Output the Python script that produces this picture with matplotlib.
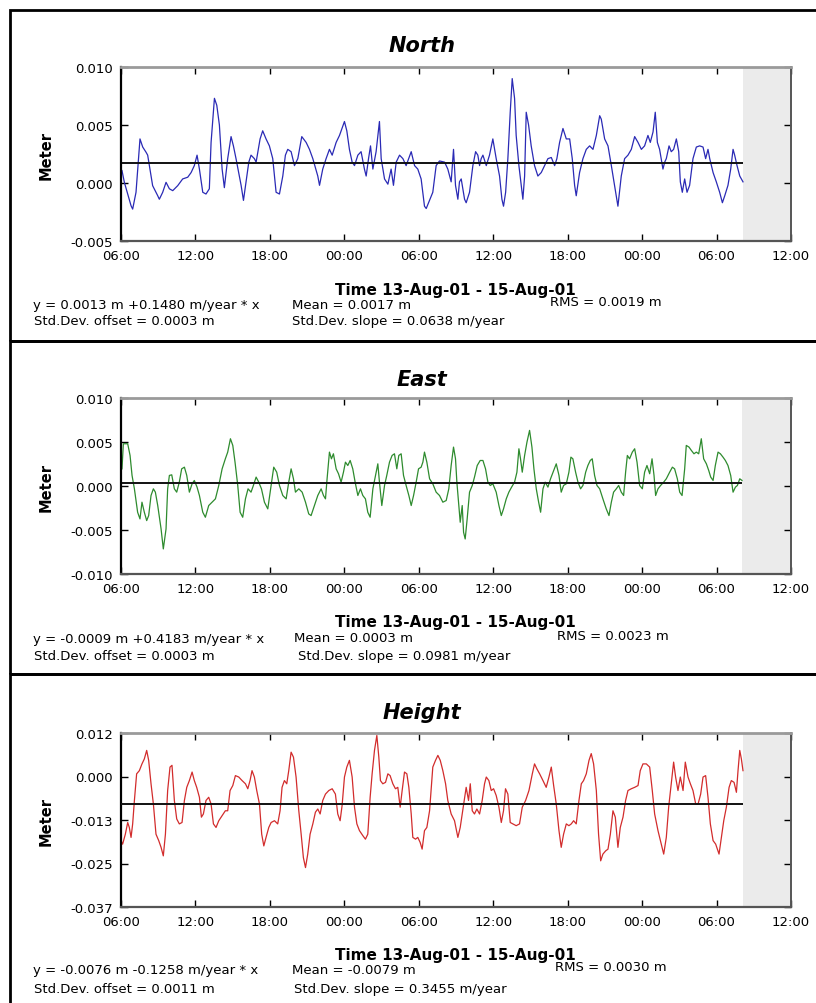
import numpy as np
import pandas as pd
import matplotlib
matplotlib.use('Agg')
import matplotlib.pyplot as plt
import matplotlib.dates as mdates
from matplotlib.patches import Rectangle

START = pd.Timestamp('2001-08-13 06:00')
XMAX = pd.Timestamp('2001-08-15 12:00')

# ---------------- data (hours after 13-Aug-01 06:00, metres) ----------------
north_hours = [0.08,0.27,0.81,0.94,1.21,1.53,1.75,2.02,2.15,2.55,2.96,3.09,3.36,3.63,3.90,4.17,4.57,4.97,5.38,5.65,
               5.91,6.13,6.32,6.59,6.85,7.12,7.26,7.53,7.72,7.93,8.15,8.33,8.60,8.87,9.06,9.27,9.68,9.87,10.08,10.30,
               10.48,10.75,10.89,11.21,11.42,11.69,11.96,12.23,12.50,12.77,13.04,13.25,13.44,13.71,13.98,14.25,14.57,14.92,15.19,15.46,
               15.86,16.00,16.26,16.53,16.80,17.02,17.34,17.61,18.01,18.20,18.41,18.63,18.82,19.09,19.35,19.62,19.76,19.95,20.11,20.30,
               20.56,20.83,20.97,21.24,21.51,21.77,21.96,22.18,22.45,22.72,22.98,23.39,23.66,23.92,24.19,24.46,24.60,
               25.13,25.40,25.67,26.08,26.34,26.61,26.80,26.96,27.15,27.28,27.42,27.69,27.82,28.09,28.36,28.58,28.76,28.90,29.03,29.17,
               29.44,29.70,29.97,30.24,30.51,30.70,30.83,31.00,31.18,31.37,31.53,31.72,31.85,32.07,32.26,32.39,32.53,32.66,32.85,33.06,
               33.33,33.60,33.87,34.14,34.41,34.68,34.95,35.13,35.35,35.62,35.89,36.16,36.37,36.56,36.69,36.96,37.23,37.50,37.77,38.04,
               38.31,38.58,38.71,38.98,39.25,39.52,39.78,40.05,40.32,40.59,40.86,41.13,41.40,41.67,41.94,42.20,42.47,42.66,42.88,43.06,
               43.23,43.41,43.68,43.82,43.95,44.17,44.35,44.54,44.76,44.95,45.08,45.24,45.43,45.62,45.83,46.10,46.37,46.64,46.91,47.12,
               47.31,47.45,47.72,47.98,48.25,48.47,48.66,48.92,49.14,49.33,49.46,49.65,49.87,50.13]
north_values = [0.00107,0.00006,-0.00196,-0.00225,-0.0008,0.0038,0.0031,0.00265,0.0024,-0.00023,-0.0011,-0.0014,-0.0008,0.00006,-0.0005,-0.00066,-0.00023,0.00035,0.0005,0.0009,
                0.0015,0.0024,0.0012,-0.0008,-0.00095,-0.0005,0.0035,0.0073,0.0067,0.0050,0.0012,-0.0004,0.0021,0.0040,0.0032,0.0021,-0.0002,-0.0015,0.0001,0.0018,
                0.0024,0.0021,0.0018,0.0038,0.0045,0.0038,0.0032,0.0021,-0.0008,-0.00095,0.0006,0.0024,0.0029,0.0027,0.0015,0.0021,0.0040,0.0035,0.0029,0.0021,
                0.0006,-0.0002,0.0012,0.0021,0.0029,0.0024,0.0035,0.0041,0.0053,0.0045,0.0029,0.0018,0.0015,0.0024,0.0027,0.0012,0.0006,0.0021,0.0032,0.0012,
                0.0027,0.0053,0.0021,0.00035,-0.0001,0.0012,-0.0002,0.0018,0.0024,0.0021,0.0015,0.0027,0.0015,0.0012,0.00035,-0.0020,-0.0022,
                -0.0008,0.0015,0.0019,0.0018,0.0012,0.0001,0.0029,-0.0002,-0.0014,0.0001,0.00035,-0.0014,-0.0017,-0.0008,0.0015,0.0027,0.0024,0.0015,0.0021,0.0024,
                0.0015,0.0024,0.0038,0.0021,0.0006,-0.0014,-0.0020,-0.0008,0.0021,0.0061,0.0090,0.0073,0.0041,0.0015,-0.0002,-0.0014,0.0006,0.0061,0.0050,0.0032,
                0.0015,0.0006,0.0009,0.0015,0.0021,0.0022,0.0015,0.0021,0.0035,0.0047,0.0038,0.0038,0.0021,-0.0002,-0.0011,0.0009,0.0021,0.0029,0.0032,0.0029,
                0.0041,0.0058,0.0055,0.0038,0.0032,0.0015,-0.0002,-0.0020,0.0006,0.0021,0.0024,0.0029,0.0040,0.0035,0.0029,0.0032,0.0041,0.0035,0.0044,0.0061,
                0.0035,0.0029,0.0012,0.0018,0.0021,0.0032,0.0027,0.0029,0.0038,0.0027,0.0001,-0.0008,0.00035,-0.0008,-0.0002,0.0021,0.0031,0.0032,0.0031,0.0021,
                0.0029,0.0021,0.0009,0.0001,-0.0008,-0.0017,-0.0011,-0.0002,0.0012,0.0029,0.0024,0.0015,0.0006,0.0001]

east_hours = [0.08,0.19,0.54,0.73,0.89,1.08,1.34,1.53,1.69,1.88,2.07,2.23,2.42,2.61,2.77,2.96,3.23,3.41,3.63,3.76,
              3.90,4.09,4.30,4.49,4.70,4.89,5.11,5.30,5.51,5.73,5.91,6.13,6.32,6.59,6.80,7.07,7.34,7.61,7.88,8.15,
              8.41,8.60,8.82,9.01,9.19,9.41,9.60,9.81,10.03,10.24,10.48,10.67,10.89,11.10,11.32,11.56,11.83,12.10,12.31,12.55,
              12.77,13.04,13.31,13.52,13.71,13.90,14.06,14.33,14.60,14.87,15.13,15.32,15.59,15.86,16.13,16.32,16.48,16.61,16.80,16.96,
              17.12,17.34,17.53,17.74,17.93,18.09,18.28,18.47,18.68,18.87,19.09,19.30,19.49,19.70,19.89,20.08,20.30,20.51,20.70,20.83,
              21.02,21.24,21.42,21.64,21.85,22.04,22.23,22.39,22.58,22.77,22.98,23.20,23.39,23.58,23.79,23.98,24.19,24.33,24.46,24.65,24.87,
              25.13,25.40,25.67,25.94,26.21,26.42,26.61,26.80,26.96,27.07,27.23,27.34,27.50,27.61,27.74,27.90,28.09,28.31,28.49,28.71,
              28.95,29.17,29.38,29.57,29.76,29.97,30.24,30.46,30.65,30.83,31.05,31.26,31.48,31.72,31.91,32.07,32.20,32.34,32.53,32.72,
              32.93,33.12,33.28,33.47,33.66,33.82,34.01,34.19,34.41,34.62,34.87,35.08,35.30,35.48,35.67,35.89,36.10,36.26,36.42,36.64,
              36.83,37.04,37.23,37.45,37.63,37.82,37.98,38.17,38.36,38.58,38.84,39.11,39.33,39.52,39.70,39.92,40.11,40.32,40.51,40.67,
              40.81,40.99,41.21,41.40,41.59,41.80,42.02,42.20,42.39,42.61,42.80,42.96,43.09,43.28,43.49,43.74,43.95,44.22,44.44,44.62,
              44.84,45.03,45.22,45.43,45.56,45.78,45.97,46.18,46.37,46.56,46.77,46.96,47.18,47.37,47.53,47.72,47.90,48.12,48.31,48.52,
              48.71,48.92,49.14,49.33,49.52,49.68,49.87,50.05]
east_values = [0.00195,0.0048,0.0048,0.00347,0.0012,-0.00032,-0.00298,-0.00374,-0.00184,-0.00298,-0.00393,-0.00336,-0.00108,-0.00032,-0.0007,-0.00222,-0.00488,-0.00715,-0.00488,-0.00032,
               0.0012,0.00127,-0.00032,-0.0007,0.00044,0.00195,0.00214,0.0012,-0.0007,0.00025,0.00063,-0.00013,-0.00108,-0.00298,-0.00355,-0.00222,-0.00184,-0.00146,0.00006,0.00195,
               0.00309,0.00385,0.00537,0.00461,0.00271,0.00006,-0.00298,-0.00355,-0.00146,-0.00032,-0.0007,0.00006,0.00101,0.00044,-0.00032,-0.00184,-0.0026,0.00006,0.00214,0.00157,
               0.00006,-0.00108,-0.00146,0.00044,0.00195,0.00082,-0.0007,-0.00032,-0.0007,-0.00184,-0.00317,-0.00336,-0.00222,-0.00108,-0.00032,-0.00108,-0.00146,0.00082,0.00385,0.00309,
               0.00366,0.00195,0.00139,0.00044,0.00157,0.00271,0.00233,0.0029,0.00195,0.00044,-0.00108,-0.00032,-0.00108,-0.00146,-0.00298,-0.00355,-0.00032,0.0012,0.00252,0.00044,
               -0.00222,0.00006,0.0012,0.00271,0.00347,0.00366,0.00195,0.00347,0.00366,0.0012,0.00006,-0.00108,-0.00222,-0.00108,0.00044,0.00195,0.00214,0.00271,0.00385,0.00271,0.00082,
               0.00025,-0.0007,-0.00108,-0.00184,-0.00165,-0.00032,0.00233,0.00442,0.00309,0.00044,-0.00222,-0.00412,-0.00222,-0.00526,-0.00602,-0.00374,-0.0007,0.00006,0.00101,0.00233,
               0.0029,0.0029,0.00195,0.00044,0.00006,0.00025,-0.0007,-0.00222,-0.00336,-0.0026,-0.00146,-0.0007,-0.00013,0.00044,0.00157,0.00423,0.00309,0.00157,0.00347,0.00499,
               0.00632,0.00442,0.00195,-0.00032,-0.00184,-0.00298,-0.00032,0.00044,-0.00013,0.00082,0.00176,0.00252,0.0012,-0.0007,0.00006,0.00025,0.00157,0.00328,0.00309,0.00157,
               0.00044,-0.00032,0.00006,0.00157,0.00233,0.0029,0.00309,0.0012,0.00006,-0.00032,-0.00146,-0.0026,-0.00336,-0.00184,-0.0007,-0.00032,0.00006,-0.0007,-0.00108,0.00157,
               0.00347,0.00309,0.00385,0.00423,0.00271,0.00006,-0.00032,0.00157,0.00233,0.00139,0.00309,0.0012,-0.00108,-0.00032,0.00006,0.00044,0.00082,0.00157,0.00214,0.00195,
               0.00082,-0.0007,-0.00108,0.00195,0.00461,0.00442,0.00404,0.00366,0.00385,0.00366,0.00537,0.00309,0.00252,0.00176,0.00101,0.00063,0.00233,0.00385,0.00366,0.00328,
               0.0029,0.00233,0.0012,-0.0007,-0.00013,0.00006,0.00082,0.00063]

height_hours = [0.00,0.13,0.35,0.54,0.67,0.81,0.94,1.08,1.26,1.48,1.69,1.88,2.07,2.23,2.42,2.61,2.82,3.04,3.23,3.41,
                3.58,3.76,3.95,4.11,4.30,4.49,4.70,4.92,5.11,5.30,5.51,5.73,5.91,6.10,6.32,6.48,6.64,6.85,7.07,7.26,
                7.45,7.66,7.88,8.15,8.41,8.60,8.79,9.01,9.22,9.49,9.76,10.03,10.22,10.40,10.56,10.75,10.94,11.16,11.34,11.51,
                11.69,11.91,12.10,12.37,12.63,12.82,12.98,13.17,13.36,13.52,13.71,13.90,14.11,14.33,14.52,14.70,14.87,15.05,15.24,15.46,
                15.67,15.86,16.05,16.26,16.48,16.75,17.02,17.28,17.47,17.66,17.82,18.01,18.20,18.41,18.63,18.82,19.01,19.22,19.49,19.70,
                19.89,20.08,20.24,20.43,20.62,20.78,20.91,21.10,21.32,21.51,21.69,21.91,22.12,22.31,22.50,22.66,22.85,23.04,23.20,23.39,
                23.52,23.74,23.92,24.11,24.27,24.46,24.65,24.87,
                25.13,25.35,25.54,25.73,25.94,26.16,26.34,26.61,26.88,27.15,27.34,27.50,27.69,27.82,28.01,28.15,28.31,28.49,28.68,28.90,
                29.11,29.30,29.44,29.65,29.84,30.03,30.24,30.46,30.65,30.83,30.99,31.18,31.37,31.59,31.85,32.12,32.34,32.61,32.88,33.15,
                33.33,33.52,33.74,34.01,34.27,34.49,34.68,34.87,35.08,35.30,35.48,35.67,35.89,36.10,36.29,36.48,36.69,36.91,37.10,37.28,
                37.50,37.72,37.90,38.09,38.31,38.49,38.66,38.84,39.06,39.25,39.44,39.65,39.84,40.05,40.24,40.46,40.67,40.86,41.13,41.40,
                41.67,41.85,42.07,42.34,42.61,42.82,43.01,43.28,43.55,43.74,43.95,44.14,44.35,44.54,44.70,44.89,45.08,45.30,45.48,45.70,
                45.89,46.10,46.32,46.51,46.72,46.91,47.12,47.31,47.50,47.72,47.93,48.20,48.39,48.58,48.79,49.01,49.19,49.41,49.60,49.73,
                49.87,50.00,50.13]
height_values = [-0.0183,-0.0193,-0.0165,-0.0132,-0.0146,-0.0174,-0.0136,-0.0070,0.0005,0.0014,0.0033,0.0047,0.0071,0.0043,-0.0023,-0.0080,-0.0165,-0.0183,-0.0202,-0.0226,
                 -0.0165,-0.0042,0.0024,0.0029,-0.0070,-0.0122,-0.0136,-0.0132,-0.0070,-0.0033,-0.0014,0.0010,-0.0014,-0.0033,-0.0061,-0.0117,-0.0108,-0.0070,-0.0061,-0.0080,
                 -0.0136,-0.0146,-0.0127,-0.0113,-0.0099,-0.0099,-0.0042,-0.0028,0.0000,-0.0004,-0.0014,-0.0023,-0.0037,-0.0014,0.0014,-0.0004,-0.0042,-0.0080,-0.0165,-0.0198,
                 -0.0174,-0.0146,-0.0132,-0.0127,-0.0136,-0.0099,-0.0033,-0.0014,-0.0023,0.0014,0.0066,0.0052,-0.0004,-0.0099,-0.0165,-0.0231,-0.0259,-0.0221,-0.0165,-0.0136,
                 -0.0103,-0.0094,-0.0108,-0.0070,-0.0052,-0.0042,-0.0037,-0.0052,-0.0108,-0.0127,-0.0084,-0.0004,0.0024,0.0043,-0.0004,-0.0089,-0.0136,-0.0155,-0.0169,-0.0179,
                 -0.0165,-0.0061,0.0005,0.0071,0.0113,0.0052,-0.0014,-0.0023,-0.0019,0.0005,0.0000,-0.0023,-0.0037,-0.0033,-0.0089,-0.0042,0.0010,0.0005,-0.0033,-0.0108,
                 -0.0174,-0.0179,-0.0174,-0.0188,-0.0207,-0.0155,-0.0146,-0.0099,
                 0.0024,0.0043,0.0057,0.0043,0.0014,-0.0023,-0.0070,-0.0108,-0.0127,-0.0174,-0.0146,-0.0108,-0.0061,-0.0033,-0.0070,-0.0023,-0.0099,-0.0108,-0.0094,-0.0108,
                 -0.0070,-0.0023,-0.0004,-0.0014,-0.0042,-0.0037,-0.0056,-0.0089,-0.0132,-0.0099,-0.0037,-0.0052,-0.0132,-0.0136,-0.0141,-0.0136,-0.0089,-0.0070,-0.0042,0.0005,
                 0.0033,0.0019,0.0005,-0.0014,-0.0033,-0.0004,0.0024,-0.0028,-0.0080,-0.0155,-0.0202,-0.0165,-0.0136,-0.0141,-0.0136,-0.0127,-0.0136,-0.0070,-0.0023,-0.0014,
                 0.0005,0.0043,0.0062,0.0033,-0.0042,-0.0165,-0.0240,-0.0221,-0.0212,-0.0207,-0.0165,-0.0099,-0.0117,-0.0202,-0.0146,-0.0117,-0.0070,-0.0042,-0.0037,-0.0033,
                 -0.0028,0.0014,0.0033,0.0033,0.0024,-0.0042,-0.0108,-0.0155,-0.0193,-0.0221,-0.0174,-0.0089,-0.0023,0.0038,-0.0004,-0.0042,-0.0004,-0.0042,0.0038,-0.0004,
                 -0.0023,-0.0042,-0.0080,-0.0080,-0.0052,-0.0004,0.0000,-0.0061,-0.0136,-0.0183,-0.0193,-0.0221,-0.0174,-0.0127,-0.0089,-0.0033,-0.0014,-0.0019,-0.0047,0.0014,
                 0.0071,0.0047,0.0014]

titles = ['North', 'East', 'Height']
series_hours = [north_hours, east_hours, height_hours]
series_values = [north_values, east_values, height_values]
line_colors = ['#2a2ab5', '#2e8b2e', '#d22c2c']
ylims = [(-0.005, 0.010), (-0.010, 0.010), (-0.037, 0.012)]
ytick_labels = [['-0.005', '0.000', '0.005', '0.010'],
                ['-0.010', '-0.005', '0.000', '0.005', '0.010'],
                ['-0.037', '-0.025', '-0.013', '0.000', '0.012']]
means = [0.0017, 0.0003, -0.0079]
xlabel_text = 'Time 13-Aug-01 - 15-Aug-01'
ylabel_text = 'Meter'
fit_texts = ['y = 0.0013 m +0.1480 m/year * x', 'y = -0.0009 m +0.4183 m/year * x', 'y = -0.0076 m -0.1258 m/year * x']
mean_texts = ['Mean = 0.0017 m', 'Mean = 0.0003 m', 'Mean = -0.0079 m']
rms_texts = ['RMS = 0.0019 m', 'RMS = 0.0023 m', 'RMS = 0.0030 m']
offset_texts = ['Std.Dev. offset = 0.0003 m', 'Std.Dev. offset = 0.0003 m', 'Std.Dev. offset = 0.0011 m']
slope_texts = ['Std.Dev. slope = 0.0638 m/year', 'Std.Dev. slope = 0.0981 m/year', 'Std.Dev. slope = 0.3455 m/year']

# ---------------- layout (pixels) ----------------
W, H = 816, 1004
fig = plt.figure(figsize=(W / 100, H / 100), dpi=100)
fig.patch.set_facecolor('white')


def fx(x):
    return x / W


def fy(y):
    return 1 - y / H


axes_px = [(121, 68, 791, 242), (121, 399, 791, 575), (121, 734, 791, 908)]
panel_y = [11, 342, 675, 1012]
title_y = [46, 380, 713]
xlabel_y = [291, 623, 956]
line1_y = [306, 639, 971]
line2_y = [322, 657, 990]
mean_x = [292, 294, 292]
rms_x = [550, 557, 555]
slope_x = [292, 298, 294]

for i in range(3):
    # panel frame
    fig.add_artist(Rectangle((fx(9.5), fy(panel_y[i + 1])), fx(900), fy(panel_y[i]) - fy(panel_y[i + 1]),
                             transform=fig.transFigure, fill=False, edgecolor='black', linewidth=2.0,
                             clip_on=False))

    x0, y0, x1, y1 = axes_px[i]
    ax = fig.add_axes([fx(x0), fy(y1), fx(x1 - x0), fy(y0) - fy(y1)])
    t = START + pd.to_timedelta(np.array(series_hours[i]), unit='h')
    v = np.array(series_values[i])
    ax.axvspan(t[-1], XMAX, color='#ebebeb', zorder=0, lw=0)
    ax.plot(t, v, color=line_colors[i], lw=0.9, zorder=2)
    ax.hlines(means[i], t[0], t[-1], color='#111111', lw=1.4, zorder=3)
    ax.set_xlim(START, XMAX)
    lo, hi = ylims[i]
    ax.set_ylim(lo, hi)
    ax.set_yticks(np.linspace(lo, hi, len(ytick_labels[i])))
    ax.set_yticklabels(ytick_labels[i])
    ax.xaxis.set_major_locator(mdates.HourLocator(byhour=[0, 6, 12, 18]))
    ax.xaxis.set_major_formatter(mdates.DateFormatter('%H:%M'))
    ax.tick_params(direction='in', top=True, right=True, length=5, width=1.0,
                   labelsize=9.5, colors='black')
    ax.tick_params(axis='x', pad=6)
    ax.tick_params(axis='y', pad=6)
    ax.spines['left'].set_color('black')
    ax.spines['left'].set_linewidth(1.6)
    ax.spines['bottom'].set_color('#555555')
    ax.spines['bottom'].set_linewidth(1.6)
    ax.spines['top'].set_color('#9a9a9a')
    ax.spines['top'].set_linewidth(2.0)
    ax.spines['right'].set_color('#555555')
    ax.spines['right'].set_linewidth(1.4)

    # texts
    fig.text(fx(422), fy(title_y[i]), titles[i], fontsize=15, fontweight='bold', fontstyle='italic',
             ha='center', va='center')
    fig.text(fx(46), fy((y0 + y1) / 2), ylabel_text, fontsize=10.5, fontweight='bold', rotation=90,
             ha='center', va='center')
    fig.text(fx(455), fy(xlabel_y[i]), xlabel_text, fontsize=11, fontweight='bold', ha='center', va='center')
    fig.text(fx(33), fy(line1_y[i]), fit_texts[i], fontsize=9.5, ha='left', va='center')
    fig.text(fx(mean_x[i]), fy(line1_y[i]), mean_texts[i], fontsize=9.5, ha='left', va='center')
    fig.text(fx(rms_x[i]), fy(line1_y[i] - 3), rms_texts[i], fontsize=9.5, ha='left', va='center')
    fig.text(fx(34), fy(line2_y[i]), offset_texts[i], fontsize=9.5, ha='left', va='center')
    fig.text(fx(slope_x[i]), fy(line2_y[i]), slope_texts[i], fontsize=9.5, ha='left', va='center')

fig.savefig('out.png', dpi=100, facecolor='white')
